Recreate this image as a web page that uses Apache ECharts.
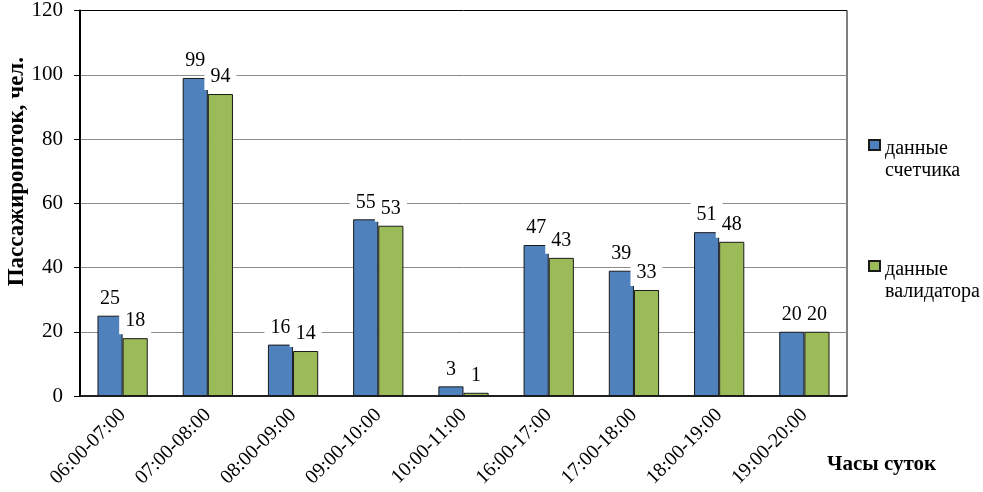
<!DOCTYPE html>
<html>
<head>
<meta charset="utf-8">
<script src="https://cdn.jsdelivr.net/npm/echarts@6/dist/echarts.min.js"></script>
<style>html,body{margin:0;padding:0;background:#fff}#c{width:983px;height:492px}</style>
</head>
<body>
<div id="c"></div>
<script>
var categories = ['06:00-07:00','07:00-08:00','08:00-09:00','09:00-10:00','10:00-11:00','16:00-17:00','17:00-18:00','18:00-19:00','19:00-20:00'];
var counterValues = [25, 99, 16, 55, 3, 47, 39, 51, 20];
var validatorValues = [18, 94, 14, 53, 1, 43, 33, 48, 20];
var seriesNames = ['данные\nсчетчика', 'данные\nвалидатора'];
var yTitle = 'Пассажиропоток, чел.';
var xTitle = 'Часы суток';

var FONT = "'Liberation Serif','Times New Roman',serif";
var chart = echarts.init(document.getElementById('c'), null, {renderer: 'canvas'});
var labelCfg = {
  show: true, position: 'top', distance: 4,
  fontFamily: FONT, fontSize: 20, color: '#000',
  backgroundColor: '#fff', padding: [3, 6]
};
chart.setOption({
  animation: false,
  backgroundColor: '#fff',
  grid: {left: 80, right: 136, top: 8, bottom: 96, show: true, borderColor: '#000', borderWidth: 1, containLabel: false},
  legend: {
    orient: 'vertical', left: 868, top: 138, itemGap: 77, padding: 0,
    itemWidth: 11, itemHeight: 40,
    icon: 'path://M0,0H11V10H0Z M0,40',
    textStyle: {fontFamily: FONT, fontSize: 20, lineHeight: 22, color: '#000'},
    data: seriesNames
  },
  xAxis: {
    type: 'category', data: categories,
    axisLine: {lineStyle: {color: '#000', width: 1.5}},
    axisTick: {show: false},
    axisLabel: {rotate: 45, interval: 0, margin: 16, fontFamily: FONT, fontSize: 20, color: '#000'}
  },
  yAxis: {
    type: 'value', min: 0, max: 120, interval: 20,
    axisLine: {show: true, lineStyle: {color: '#000', width: 2}},
    axisTick: {show: true, length: 6, lineStyle: {color: '#000', width: 1}},
    axisLabel: {margin: 17, fontFamily: FONT, fontSize: 21, color: '#000'},
    splitLine: {show: true, showMinLine: false, showMaxLine: false, lineStyle: {color: '#8c8c8c', width: 1}}
  },
  graphic: [
    {type: 'text', left: 6, top: 57, rotation: Math.PI / 2,
     style: {text: yTitle, fontFamily: FONT, fontSize: 23, fontWeight: 'bold', fill: '#000'}},
    {type: 'text', left: 827, top: 454,
     style: {text: xTitle, fontFamily: FONT, fontSize: 21, fontWeight: 'bold', fill: '#000'}}
  ],
  series: [
    {name: seriesNames[0], type: 'bar', data: counterValues, barGap: '0%', barCategoryGap: '41%',
     itemStyle: {color: '#4f81bd', borderColor: '#1a1a1a', borderWidth: 1}, label: labelCfg},
    {name: seriesNames[1], type: 'bar', data: validatorValues, barGap: '0%', barCategoryGap: '41%',
     itemStyle: {color: '#9bbb59', borderColor: '#1a1a1a', borderWidth: 1}, label: labelCfg}
  ]
});
</script>
</body>
</html>
